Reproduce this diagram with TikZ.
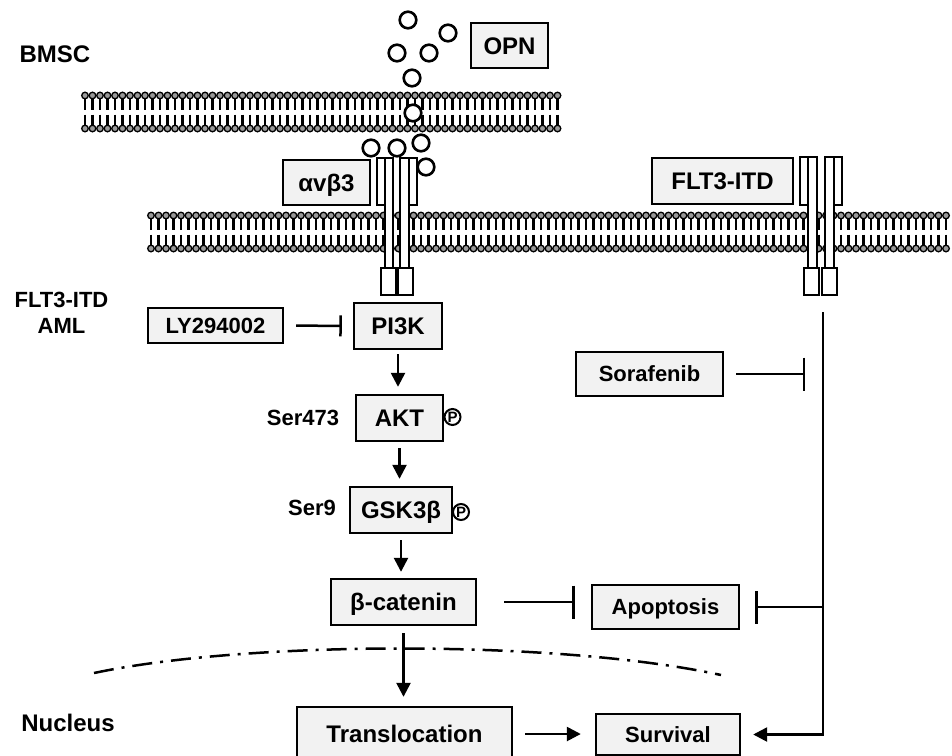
\documentclass[tikz,border=0pt]{standalone}
\usepackage{fontspec}
\setmainfont{Liberation Sans}
\usetikzlibrary{arrows.meta}
\definecolor{boxfill}{HTML}{F2F2F2}
\definecolor{headfill}{HTML}{9A9A9A}
\tikzset{
  box/.style={draw, line width=2.4pt, fill=boxfill, inner sep=0pt, font=\bfseries\fontsize{24}{28}\selectfont, text height=17pt, text depth=0pt},
  boxs/.style={box, font=\bfseries\fontsize{22}{26}\selectfont, text height=15.8pt},
  lbl/.style={inner sep=0pt, font=\bfseries\fontsize{24}{28}\selectfont, text height=17pt, text depth=0pt},
  lbls/.style={lbl, font=\bfseries\fontsize{22}{26}\selectfont, text height=15.8pt},
  act/.style={line width=2.5pt, -{Triangle[length=14pt,width=14pt]}},
  inh/.style={line width=2.5pt, -{Bar[width=33pt,line width=2.5pt]}},
  inhs/.style={line width=2.5pt, -{Bar[width=21pt,line width=2.5pt]}},
  ball/.style={line width=2.6pt, fill=white},
  recep/.style={draw, line width=2.2pt, fill=white},
  phos/.style={circle, draw, line width=2pt, inner sep=0pt, minimum size=16pt, font=\bfseries\fontsize{15}{16}\selectfont},
  head/.style={draw, line width=1.3pt, fill=headfill},
  tail/.style={line width=2.4pt}
}
\begin{document}
\begin{tikzpicture}[x=1pt,y=-1pt]
\useasboundingbox (0,0) rectangle (952,755);
% ---- top membrane (BMSC)
\foreach \xx in {85,92.5,...,558} {
  \draw[tail] (\xx,98) -- (\xx,109.5) (\xx,114.5) -- (\xx,126);
}
\foreach \xx in {85,92.5,...,558} {
  \draw[head] (\xx,95.5) circle (3.3);
  \draw[head] (\xx,128.5) circle (3.3);
}
% ---- bottom membrane (AML cell)
\foreach \xx in {151,158.5,...,952} {
  \draw[tail] (\xx,218) -- (\xx,229.5) (\xx,234.5) -- (\xx,246);
}
\foreach \xx in {151,158.5,...,952} {
  \draw[head] (\xx,215.5) circle (3.3);
  \draw[head] (\xx,248.5) circle (3.3);
}
% ---- integrin receptor
\draw[recep] (385,158) rectangle (393,268);
\draw[recep] (400,158) rectangle (409,268);
\draw[recep] (377,158) rectangle (385,205);
\draw[recep] (409,158) rectangle (417,205);
\draw[recep] (381,268) rectangle (396,295);
\draw[recep] (398,268) rectangle (413,295);
% ---- FLT3-ITD receptor
\draw[recep] (808,157) rectangle (817,268);
\draw[recep] (825,157) rectangle (834,268);
\draw[recep] (800,157) rectangle (808,205);
\draw[recep] (834,157) rectangle (842,205);
\draw[recep] (804,268) rectangle (819,295);
\draw[recep] (822,268) rectangle (837,295);
% ---- OPN molecules
\foreach \p in {(408,20),(448,33),(397,53),(429,53),(412,78),(413,113),(371,148),(397,148),(421,143),(426,167)} {
  \draw[ball] \p circle (8.3);
}
% ---- labels
\node[lbl] (bmsc) at (55,53.5) {BMSC};
\node[lbls] (lflt) at (61.5,299.5) {FLT3-ITD};
\node[lbls] (laml) at (61.5,326) {AML};
\node[lbl] (lnuc) at (68,722.5) {Nucleus};
\node[lbls] (ser473) at (303,418) {Ser473};
\node[lbls] (ser9) at (312,508) {Ser9};
% ---- boxes
\node[box, minimum width=77pt, minimum height=45pt] (opn) at (509.5,45.5) {OPN};
\node[box, minimum width=87pt, minimum height=45pt] (avb3) at (326.5,182.5) {αvβ3};
\node[box, minimum width=141pt, minimum height=46pt] (flt) at (722.5,181) {FLT3-ITD};
\node[boxs, minimum width=135pt, minimum height=35pt] (ly) at (215.5,325.5) {LY294002};
\node[box, minimum width=88pt, minimum height=46pt] (pi3k) at (398,326) {PI3K};
\node[box, minimum width=87pt, minimum height=46pt] (akt) at (399.5,418) {AKT};
\node[box, minimum width=102pt, minimum height=46pt] (gsk) at (401,510) {GSK3β};
\node[box, minimum width=145pt, minimum height=46pt] (bcat) at (403.5,602) {β-catenin};
\node[boxs, minimum width=147pt, minimum height=44pt] (apo) at (665.5,607) {Apoptosis};
\node[boxs, minimum width=147pt, minimum height=44pt] (sora) at (649.5,374) {Sorafenib};
\node[box, minimum width=215pt, minimum height=54pt] (trans) at (404.5,734) {Translocation};
\node[boxs, minimum width=144pt, minimum height=41pt] (surv) at (668,734.5) {Survival};
\node[phos] (p1) at (452.5,417) {P};
\node[phos] (p2) at (461,512) {P};
% ---- nuclear envelope
\draw[line width=2.5pt, dash pattern=on 20pt off 8pt on 3pt off 8pt] (94,673) .. controls (250,640) and (560,640) .. (721,675);
% ---- connectors
\coordinate (vtop) at (823,312);
\coordinate (vapo) at (823,607);
\draw[inhs, shorten <=12pt, shorten >=11pt] (ly.east) -- (pi3k.west);
\draw[act, shorten <=4pt, shorten >=7pt] (pi3k.south) -- (pi3k.south |- akt.north);
\draw[act, shorten <=6pt, shorten >=7pt] (akt.south) -- (akt.south |- gsk.north);
\draw[act, shorten <=6pt, shorten >=6pt] (gsk.south) -- (gsk.south |- bcat.north);
\draw[act, shorten <=7pt, shorten >=9pt] (bcat.south) -- (bcat.south |- trans.north);
\draw[act, shorten <=12pt, shorten >=14pt] (trans.east) -- (trans.east -| surv.west);
\draw[inh, shorten <=27pt, shorten >=16pt] (bcat.east) -- (bcat.east -| apo.west);
\draw[inh, shorten >=15pt] (vapo) -- (apo.east);
\draw[inh, shorten <=12pt, shorten >=18pt] (sora.east) -- (sora.east -| vtop);
\draw[act, shorten >=12pt] (vtop) |- (surv.east);
\end{tikzpicture}
\end{document}
